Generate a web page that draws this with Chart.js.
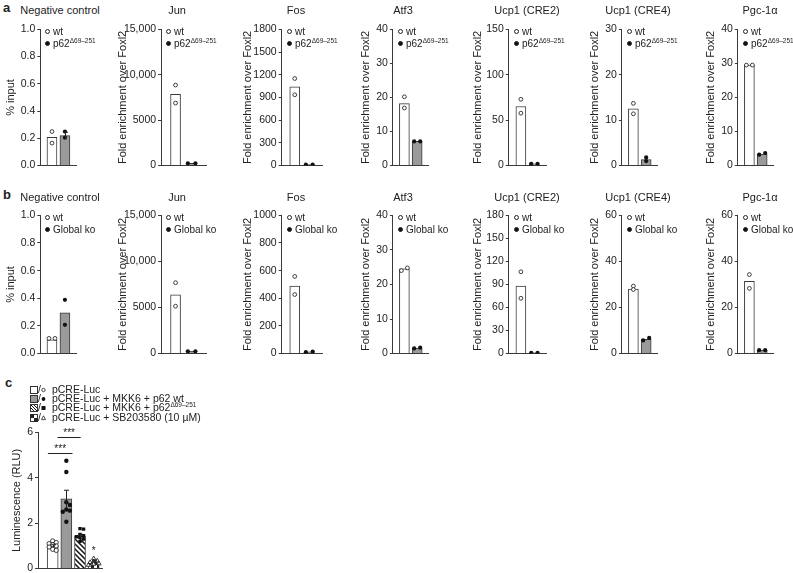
<!DOCTYPE html>
<html>
<head>
<meta charset="utf-8">
<script src="https://cdn.jsdelivr.net/npm/chart.js@4.4.0/dist/chart.umd.min.js"></script>
<style>
  body { margin: 0; width: 793px; height: 573px; position: relative; overflow: hidden; background: #fff;
         font-family: "Liberation Sans", Arial, sans-serif; color: #222; }
  canvas { position: absolute; }
  .t { position: absolute; font-size: 11px; white-space: nowrap; transform: translate(-50%, -50%); }
  .lab { position: absolute; font-weight: bold; font-size: 13px; }
  .lg { position: absolute; font-size: 10px; white-space: nowrap; line-height: 11.5px; }
  .lg sup, .cl sup { font-size: 6.5px; vertical-align: 4px; line-height: 0; }
  .mk { display: inline-block; width: 3px; height: 3px; border-radius: 50%; border: 0.8px solid #222;
        margin-right: 3px; vertical-align: 1px; }
  .mk.f { background: #111; }
  .cl { position: absolute; left: 30px; font-size: 10.5px; white-space: nowrap; line-height: 9.4px; }
  .cl svg { vertical-align: -1px; }
</style>
</head>
<body>
<div class="lab" style="left:3px;top:0px">a</div>
<div class="lab" style="left:3px;top:187px">b</div>
<div class="lab" style="left:5px;top:375px">c</div>
<script>
// ---- data ----
const genes = ["Negative control", "Jun", "Fos", "Atf3", "Ucp1 (CRE2)", "Ucp1 (CRE4)", "Pgc-1\u03b1"];

// panel a: wt vs p62 Δ69-251
const aWt = [0.207, 7850, 1040, 18.2, 65, 12.5, 29.5];
const aKo = [0.22, 250, 12, 7.1, 2, 1.3, 3.4];
const aWtPts = [[0.25, 0.165], [8860, 6880], [1150, 935], [20.2, 16.9], [73, 57.7], [13.7, 11.4], [29.5, 29.5]];
const aKoPts = [[0.25, 0.205], [250, 250], [12, 12], [7.1, 7.1], [2, 2], [1.8, 1.0], [3.2, 3.7]];
const aKoErr = [0.025, 0, 0, 0, 0, 0, 0];
const aMax = [1, 15000, 1800, 40, 150, 30, 40];
const aTicks = [
  ["0.0", "0.2", "0.4", "0.6", "0.8", "1.0"],
  ["0", "5000", "10,000", "15,000"],
  ["0", "300", "600", "900", "1200", "1500", "1800"],
  ["0", "10", "20", "30", "40"],
  ["0", "50", "100", "150"],
  ["0", "10", "20", "30"],
  ["0", "10", "20", "30", "40"]
];

// panel b: wt vs global ko
const bWt = [0.1, 6380, 488, 24.5, 88, 28, 31.3];
const bKo = [0.295, 250, 12, 1.6, 1, 6.2, 1.5];
const bWtPts = [[0.11, 0.11], [7690, 5140], [558, 427], [24, 24.8], [106.5, 72], [29.3, 27.8], [34.3, 28.3]];
const bKoPts = [[0.389, 0.208], [250, 250], [10, 15], [1.5, 1.7], [1, 1], [5.7, 6.8], [1.5, 1.5]];
const bMax = [1, 15000, 1000, 40, 180, 60, 60];
const bTicks = [
  ["0.0", "0.2", "0.4", "0.6", "0.8", "1.0"],
  ["0", "5000", "10,000", "15,000"],
  ["0", "200", "400", "600", "800", "1000"],
  ["0", "10", "20", "30", "40"],
  ["0", "30", "60", "90", "120", "150", "180"],
  ["0", "20", "40", "60"],
  ["0", "20", "40", "60"]
];

// panel c: luciferase assay
const cGroups = ["pCRE-Luc", "pCRE-Luc + MKK6 + p62 wt", "pCRE-Luc + MKK6 + p62", "pCRE-Luc + SB203580 (10 \u00b5M)"];
const cMeans = [1.0, 3.07, 1.43, 0.3];
const cSem = [0.05, 0.38, 0.08, 0.05];
const cPts = [
  [1.22, 1.15, 1.1, 1.05, 1.0, 0.95, 0.85, 0.8],
  [4.75, 4.25, 2.92, 2.8, 2.6, 2.55, 2.5, 2.06],
  [1.76, 1.74, 1.5, 1.45, 1.4, 1.38, 1.3, 1.2],
  [0.45, 0.35, 0.3, 0.28, 0.25, 0.22, 0.2, 0.15]
];
const cTicks = ["0", "2", "4", "6"];
const cSig = [
  { from: -0.35, to: 1.45, y: 5.1, label: "***" },
  { from: 0.35, to: 2.05, y: 5.8, label: "***" },
  { from: 3, to: 3, y: 0.6, label: "*" }
];

// ---- layout ----
Chart.defaults.font.family = '"Liberation Sans", Arial, sans-serif';
Chart.defaults.font.size = 10.5;
Chart.defaults.color = "#222";
Chart.defaults.animation = false;
Chart.defaults.plugins.legend.display = false;
Chart.defaults.plugins.tooltip.enabled = false;

const AXIS = "#3a3a3a";
const rowAxisX = [40, 161, 282, 393, 509, 622, 738];
const titleX = [60, 177, 296, 403, 527, 638, 760];
const PLOT_W = 31, X_MIN = -0.9, X_MAX = 1.9;

function makePanel(o) {
  const cv = document.createElement("canvas");
  cv.width = 170;
  cv.height = 240;
  document.body.appendChild(cv);

  // error bars + significance marks
  const errPlug = {
    id: "errs",
    afterDatasetsDraw(chart) {
      const ctx = chart.ctx, x = chart.scales.x, y = chart.scales.y;
      ctx.save();
      ctx.strokeStyle = "#222";
      ctx.fillStyle = "#222";
      ctx.lineWidth = 1;
      (o.errs || []).forEach((e, i) => {
        if (!e) return;
        const px = Math.round(x.getPixelForValue(i)) + 0.5;
        const t = y.getPixelForValue(o.means[i] + e), b = y.getPixelForValue(o.means[i] - e);
        ctx.beginPath();
        ctx.moveTo(px, b); ctx.lineTo(px, t);
        ctx.moveTo(px - 2.5, t); ctx.lineTo(px + 2.5, t);
        ctx.stroke();
      });
      (o.sig || []).forEach(s => {
        const x1 = x.getPixelForValue(s.from), x2 = x.getPixelForValue(s.to);
        const py = Math.round(y.getPixelForValue(s.y)) + 0.5;
        if (x2 > x1) {
          ctx.beginPath(); ctx.moveTo(x1, py); ctx.lineTo(x2, py); ctx.stroke();
        }
        ctx.font = '10px "Liberation Sans", Arial, sans-serif';
        ctx.textAlign = "center";
        ctx.textBaseline = "bottom";
        ctx.fillText(s.label, (x1 + x2) / 2, py + 1);
      });
      ctx.restore();
    }
  };

  const datasets = [{
    type: "bar",
    data: o.means.map((v, i) => ({ x: i, y: v })),
    backgroundColor: o.fills,
    borderColor: AXIS,
    borderWidth: 1,
    barThickness: o.barW,
    order: 2
  }];
  o.groups.forEach(g => datasets.push({
    type: "scatter",
    data: g.data,
    pointStyle: g.style,
    pointRadius: g.r,
    pointBackgroundColor: g.fill,
    pointBorderColor: "#111",
    pointBorderWidth: g.bw,
    order: 0
  }));

  const chart = new Chart(cv, {
    type: "bar",
    data: { datasets },
    options: {
      responsive: false,
      layout: { padding: { top: 8, right: 0, bottom: 0, left: 0 } },
      scales: {
        x: {
          type: "linear", min: o.xMin, max: o.xMax, offset: false,
          ticks: { display: false }, grid: { display: false },
          border: { color: AXIS, width: 1 }
        },
        y: {
          min: 0, max: o.yMax,
          afterBuildTicks: s => {
            s.ticks = o.ticks.map((_, i) => ({ value: i * o.yMax / (o.ticks.length - 1) }));
          },
          ticks: { callback: (v, i) => o.ticks[i], padding: 2, autoSkip: false, color: "#222" },
          grid: { drawOnChartArea: false, tickLength: 3, color: AXIS },
          border: { color: AXIS, width: 1 },
          title: { display: true, text: o.yTitle, font: { size: 11 }, padding: { top: 0, bottom: 2 }, color: "#222" }
        }
      }
    },
    plugins: [errPlug]
  });

  // size the plot area, then place the canvas so the axes land where they should
  let ca = chart.chartArea;
  chart.config.options.layout.padding = {
    top: 8, left: 0,
    right: (ca.right - ca.left) - o.plotW,
    bottom: (ca.bottom - ca.top) - o.plotH
  };
  chart.update("none");
  ca = chart.chartArea;
  cv.style.left = (o.axisX - ca.left) + "px";
  cv.style.top = (o.topY - ca.top) + "px";
  return chart;
}

function addDiv(cls, html, left, top) {
  const d = document.createElement("div");
  d.className = cls;
  d.innerHTML = html;
  d.style.left = left + "px";
  d.style.top = top + "px";
  document.body.appendChild(d);
}

// two replicates: side by side if they'd overlap, stacked otherwise
function pairPoints(vals, base, yPx, xPx) {
  const dy = Math.abs(vals[0] - vals[1]) * yPx;
  const off = dy < 3 ? 2.6 / xPx : 0;
  return [{ x: base - off, y: vals[0] }, { x: base + off, y: vals[1] }];
}

// tight beeswarm (points may overlap a little), offsets in x units
function swarm(vals, base, yPx, xPx, r) {
  const order = vals.map((v, i) => i).sort((a, b) => vals[b] - vals[a]);
  const placed = [];
  const out = [];
  const steps = [0, 1, -1, 2, -2, 3, -3];
  order.forEach(i => {
    const py = vals[i] * yPx;
    let best = null;
    for (const k of steps) {
      const px = k * r * 0.75;
      if (placed.every(p => Math.hypot(p.x - px, p.y - py) >= 1.45 * r)) { best = px; break; }
    }
    if (best === null) best = 0;
    placed.push({ x: best, y: py });
    out[i] = { x: base + best / xPx, y: vals[i] };
  });
  return out;
}

function buildRow(wt, ko, wtPts, koPts, koErr, maxes, ticks, topY, plotH, koLabel, titleY) {
  genes.forEach((g, i) => {
    const yPx = plotH / maxes[i], xPx = PLOT_W / (X_MAX - X_MIN);
    makePanel({
      axisX: rowAxisX[i], topY, plotW: PLOT_W, plotH,
      yMax: maxes[i], ticks: ticks[i],
      yTitle: i === 0 ? "% input" : "Fold enrichment over Foxl2",
      xMin: X_MIN, xMax: X_MAX, barW: 10,
      means: [wt[i], ko[i]],
      errs: koErr ? [0, koErr[i]] : null,
      fills: ["#fff", "#9a9a9a"],
      groups: [
        { data: pairPoints(wtPts[i], 0, yPx, xPx), style: "circle", r: 1.9, fill: "#fff", bw: 0.8 },
        { data: pairPoints(koPts[i], 1, yPx, xPx), style: "circle", r: 2.1, fill: "#111", bw: 0 }
      ]
    });
    addDiv("t", g, titleX[i], titleY);
    addDiv("lg", '<span class="mk"></span>wt<br><span class="mk f"></span>' + koLabel,
      rowAxisX[i] + 5, topY - 3);
  });
}

buildRow(aWt, aKo, aWtPts, aKoPts, aKoErr, aMax, aTicks, 29, 136, "p62<sup>\u039469\u2013251</sup>", 10);
buildRow(bWt, bKo, bWtPts, bKoPts, null, bMax, bTicks, 215, 138, "Global ko", 197);

// ---- panel c ----
function hatch() {
  const c = document.createElement("canvas");
  c.width = c.height = 5;
  const g = c.getContext("2d");
  g.fillStyle = "#fff"; g.fillRect(0, 0, 5, 5);
  g.strokeStyle = "#111"; g.lineWidth = 1.5;
  g.beginPath();
  g.moveTo(-1, -1); g.lineTo(6, 6);
  g.moveTo(-1, 4); g.lineTo(1, 6);
  g.moveTo(4, -1); g.lineTo(6, 1);
  g.stroke();
  return g.createPattern(c, "repeat");
}
function checker() {
  const c = document.createElement("canvas");
  c.width = c.height = 6;
  const g = c.getContext("2d");
  g.fillStyle = "#fff"; g.fillRect(0, 0, 6, 6);
  g.fillStyle = "#222"; g.fillRect(0, 0, 3, 3); g.fillRect(3, 3, 3, 3);
  return g.createPattern(c, "repeat");
}

const C_MIN = -1.07, C_MAX = 3.67, C_W = 60, C_H = 136;
const cyPx = C_H / 6, cxPx = C_W / (C_MAX - C_MIN);
const cStyles = [
  { style: "circle", r: 2.1, fill: "#fff", bw: 0.8 },
  { style: "circle", r: 2.2, fill: "#111", bw: 0 },
  { style: "rect", r: 2.4, fill: "#111", bw: 0 },
  { style: "triangle", r: 2.4, fill: "#fff", bw: 0.8 }
];
makePanel({
  axisX: 38, topY: 432, plotW: C_W, plotH: C_H,
  yMax: 6, ticks: cTicks, yTitle: "Luminescence (RLU)",
  xMin: C_MIN, xMax: C_MAX, barW: 11,
  means: cMeans, errs: cSem,
  fills: ["#fff", "#9a9a9a", hatch(), checker()],
  sig: cSig,
  groups: cPts.map((p, i) => Object.assign({ data: swarm(p, i, cyPx, cxPx, 2.2) }, cStyles[i]))
});

// legend c
const boxSvgs = [
  '<rect x="0.5" y="0.5" width="7" height="7" fill="#fff" stroke="#333"/>',
  '<rect x="0.5" y="0.5" width="7" height="7" fill="#999" stroke="#333"/>',
  '<defs><pattern id="hp" width="3" height="3" patternUnits="userSpaceOnUse"><path d="M-1,-1 L4,4" stroke="#111" stroke-width="1"/></pattern></defs><rect x="0.5" y="0.5" width="7" height="7" fill="url(#hp)" stroke="#333"/>',
  '<rect x="0.5" y="0.5" width="7" height="7" fill="#fff" stroke="#333"/><rect x="0.5" y="0.5" width="3.5" height="3.5" fill="#222"/><rect x="4" y="4" width="3.5" height="3.5" fill="#222"/>'
];
const markSvgs = [
  '<circle cx="2.5" cy="4" r="1.7" fill="#fff" stroke="#222" stroke-width="0.8"/>',
  '<circle cx="2.5" cy="4" r="1.9" fill="#111"/>',
  '<rect x="0.5" y="2" width="4" height="4" fill="#111"/>',
  '<path d="M2.5,1.8 L4.5,5.6 L0.5,5.6 Z" fill="#fff" stroke="#222" stroke-width="0.8"/>'
];
cGroups.forEach((name, i) => {
  const label = i === 2 ? name + "<sup>\u039469\u2013251</sup>" : name;
  addDiv("cl",
    '<svg width="8" height="8">' + boxSvgs[i] + '</svg>/<svg width="5" height="8">' + markSvgs[i] +
    '</svg><span style="margin-left:6px">' + label + "</span>",
    30, 384.5 + i * 9.4);
});
</script>
</body>
</html>
